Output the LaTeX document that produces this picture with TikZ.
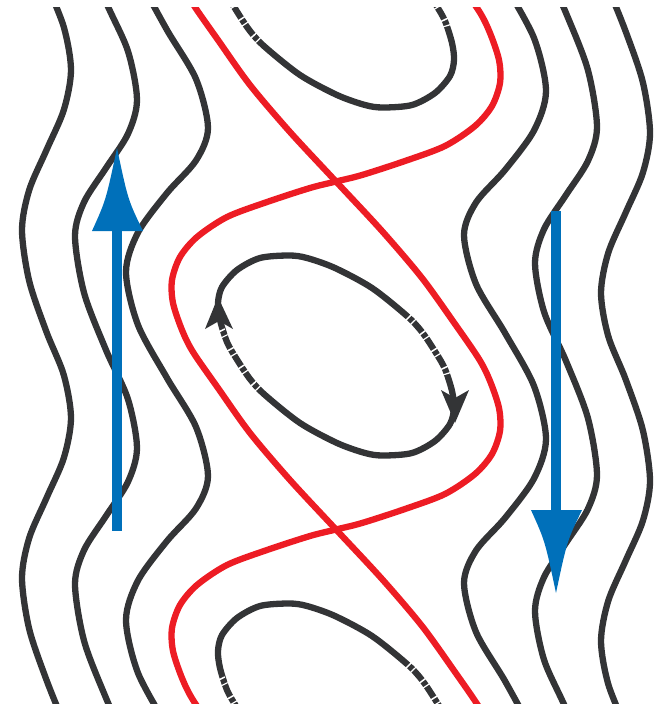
\documentclass[tikz,border=0pt]{standalone}
\definecolor{ink}{RGB}{51,52,54}
\definecolor{sepred}{RGB}{237,28,36}
\definecolor{flowblue}{RGB}{0,112,186}
\begin{document}
\begin{tikzpicture}[x=1pt,y=-1pt,
  streamline/.style={draw=ink,line width=6.3pt},
  separatrix/.style={draw=sepred,line width=6.3pt},
  gaps/.style={draw=white,line width=8pt,dash pattern=on 1.5pt off 5pt on 1.2pt off 13pt},
  flowarrow/.style={fill=flowblue}]
\useasboundingbox (0,0) rectangle (659,707);
\begin{scope}
\clip (0,7) rectangle (659,703);
% outer streamlines (left set, and the right set by point symmetry)
\foreach \r in {0,180} {
  \begin{scope}[rotate around={\r:(336,355.5)}]
    \draw[streamline] plot[smooth] coordinates {(46.5,-16) (63.8,27) (71,70) (63.8,110) (46.5,150) (29.2,190) (22,230) (29.2,281) (46.5,332) (63.8,375) (71,418) (63.8,458) (46.5,498) (29.2,538) (22,578) (29.2,629) (46.5,680) (63.8,723)};
    \draw[streamline] plot[smooth] coordinates {(84.1,-55) (106,2) (127.9,51) (137,100) (127.9,134) (106,168) (84.1,202) (75,236) (84.1,293) (106,350) (127.9,399) (137,448) (127.9,482) (106,516) (84.1,550) (75,584) (84.1,641) (106,698) (127.9,747)};
    \draw[streamline] plot[smooth] coordinates {(138,-23) (167,30) (196,79) (208,128) (196,160.5) (167,193) (138,232.5) (126,272) (138,325) (167,378) (196,427) (208,476) (196,508.5) (167,541) (138,580.5) (126,620) (138,673) (167,726)};
  \end{scope}
}
% closed eye streamlines (middle, upper, lower)
\foreach \s in {-348,0,348} {
  \begin{scope}[shift={(0,\s)}]
    \draw[streamline] plot[smooth cycle] coordinates {(289,255.5) (260,258) (237,270) (222,287) (218,303) (220,320) (227,342) (236,358) (250,379) (265,395) (300,423) (337,443) (365,453) (383,455.5) (412,453) (435,441) (450,424) (454,408) (452,391) (445,369) (436,353) (422,332) (407,316) (372,288) (335,268) (307,258)};
    \draw[gaps] plot[smooth] coordinates {(221,330) (227,342) (236,358) (250,379) (264,394)};
    \draw[gaps] plot[smooth] coordinates {(408,317) (422,332) (436,353) (445,369) (450,386)};
  \end{scope}
}
% separatrices
\draw[separatrix] plot[smooth] coordinates {(173,-45) (182,-18) (193,4) (218,40) (250,85) (290,132) (336,181.5) (382,231) (422,278) (455,324) (479,359) (490,381) (499,408) (500,431) (492,454) (475,474) (445,494) (405,509) (362,523) (336,529.5) (310,536) (267,550) (227,565) (197,585) (180,605) (172,628) (173,651) (182,678) (193,700) (218,736)};
\draw[separatrix] plot[smooth] coordinates {(454,-24) (479,11) (490,33) (499,60) (500,83) (492,106) (475,126) (445,146) (405,161) (362,175) (336,181.5) (310,188) (267,202) (227,217) (197,237) (180,257) (172,280) (173,303) (182,330) (193,352) (218,388) (250,433) (290,480) (336,529.5) (382,579) (422,626) (455,672) (479,707) (490,729)};
\end{scope}
% arrowheads on the closed streamline
\fill[ink] (218,297) -- (233,329) -- (219,321) -- (205,329) -- cycle;
\fill[ink] (455,423) -- (441,390) -- (455,398) -- (469,390) -- cycle;
% blue flow arrows
\fill[flowblue] (112,531) rectangle (122,229);
\fill[flowblue] (92,231) .. controls (106,200) .. (117,148) .. controls (128,200) .. (143,231) -- cycle;
\fill[flowblue] (551,211) rectangle (561,512);
\fill[flowblue] (531,510) .. controls (545,541) .. (556,593) .. controls (567,541) .. (582,510) -- cycle;
\end{tikzpicture}
\end{document}
